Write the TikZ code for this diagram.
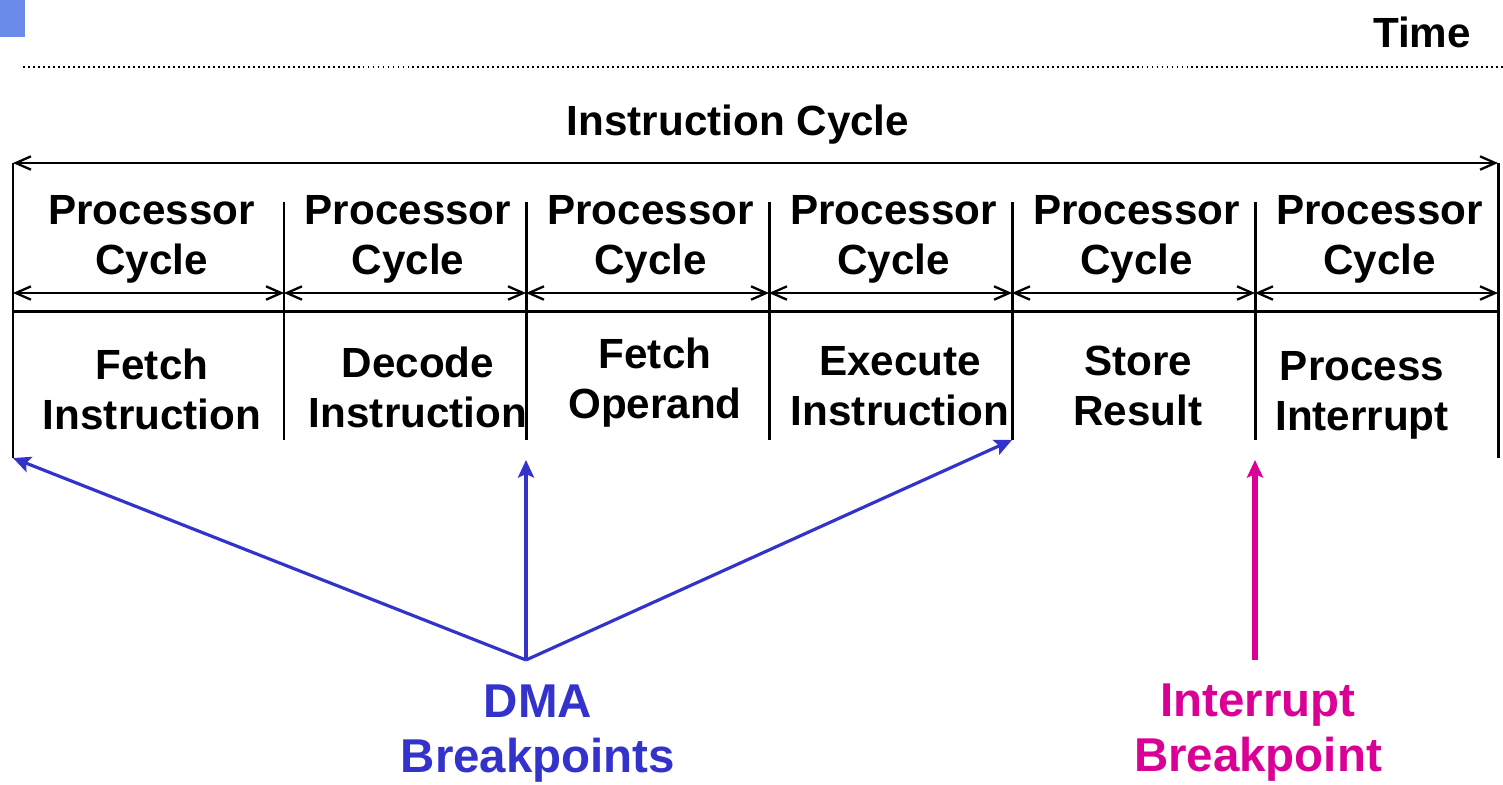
\documentclass[tikz,border=0pt]{standalone}
\usepackage{fontspec}
\setmainfont{Liberation Sans}
\usetikzlibrary{arrows.meta}

\definecolor{dmablue}{RGB}{51,51,204}
\definecolor{intpink}{RGB}{218,0,150}
\definecolor{tabblue}{RGB}{107,139,235}

\begin{document}
\begin{tikzpicture}[
  x=0.01cm, y=-0.01cm,
  lbl/.style={font=\bfseries\fontsize{12}{14.2}\selectfont, align=center, inner sep=0pt},
  biglbl/.style={font=\bfseries\fontsize{13.5}{15.6}\selectfont, align=center, inner sep=0pt},
  span/.style={line width=0.65pt, {Straight Barb[length=4.3pt,width=3.8pt]}-{Straight Barb[length=4.3pt,width=3.8pt]}},
  rule/.style={line width=0.85pt},
  brk/.style={-{Stealth[length=5pt,width=4.6pt,inset=1pt]}}
]
  \useasboundingbox (0,0) rectangle (1503,784);

  % corner tab and time line
  \fill[tabblue] (0,0) rectangle (25,37);
  \node[lbl] (time) at (1422,32) {Time};
  \draw[line width=0.6pt, dash pattern=on 0.55pt off 0.87pt] (23,67) -- (1503,67);

  % instruction cycle span
  \node[lbl] (ic) at (738,125) {Instruction Cycle};
  \coordinate (icl) at (13,163);
  \coordinate (icr) at (1498,163);
  \draw[span] (icl) -- (icr);

  % outer borders
  \coordinate (bl) at (13,458);
  \coordinate (br) at (1498,458);
  \draw[rule] (icl) -- (bl);
  \draw[rule] (icr) -- (br);
  \draw[rule] (13,311) -- (1498,311);

  % processor cycles
  \foreach \i/\a/\b in {1/13/284, 2/284/526, 3/526/769, 4/769/1012, 5/1012/1255, 6/1255/1498} {
    \coordinate (d\i) at (\b,440);
    \node[lbl] (pc\i) at ({(\a+\b)/2+3},239) {Processor\\Cycle};
    \draw[span] (\a,293) -- (\b,293);
  }
  \foreach \i/\x in {1/284, 2/526, 3/769, 4/1012, 5/1255}
    \draw[rule] (\x,202) -- (d\i);

  % stages
  \node[lbl] (s1) at (152,389) {Fetch\\Instruction};
  \node[lbl] (s2) at (418,387) {Decode\\Instruction};
  \node[lbl] (s3) at (655,383) {Fetch\\Operand};
  \node[lbl] (s4) at (900,386) {Execute\\Instruction};
  \node[lbl] (s5) at (1138,386) {Store\\Result};
  \node[lbl] (s6) at (1362,395) {Process\\Interrupt};

  % breakpoints
  \coordinate (dma) at (526,660);
  \coordinate (dmaup) at (526,460);
  \coordinate (intr) at (1255,660);
  \coordinate (intup) at (1255,460);
  \draw[brk, dmablue, line width=0.9pt] (dma) -- (bl);
  \draw[brk, dmablue, line width=0.9pt] (dma) -- (dmaup);
  \draw[brk, dmablue, line width=0.9pt] (dma) -- (d4);
  \draw[brk, intpink, line width=1.9pt] (intr) -- (intup);

  \node[biglbl, text=dmablue] (dmalbl) at (538,734) {DMA\\Breakpoints};
  \node[biglbl, text=intpink] (intlbl) at (1258,733) {Interrupt\\Breakpoint};
\end{tikzpicture}
\end{document}
